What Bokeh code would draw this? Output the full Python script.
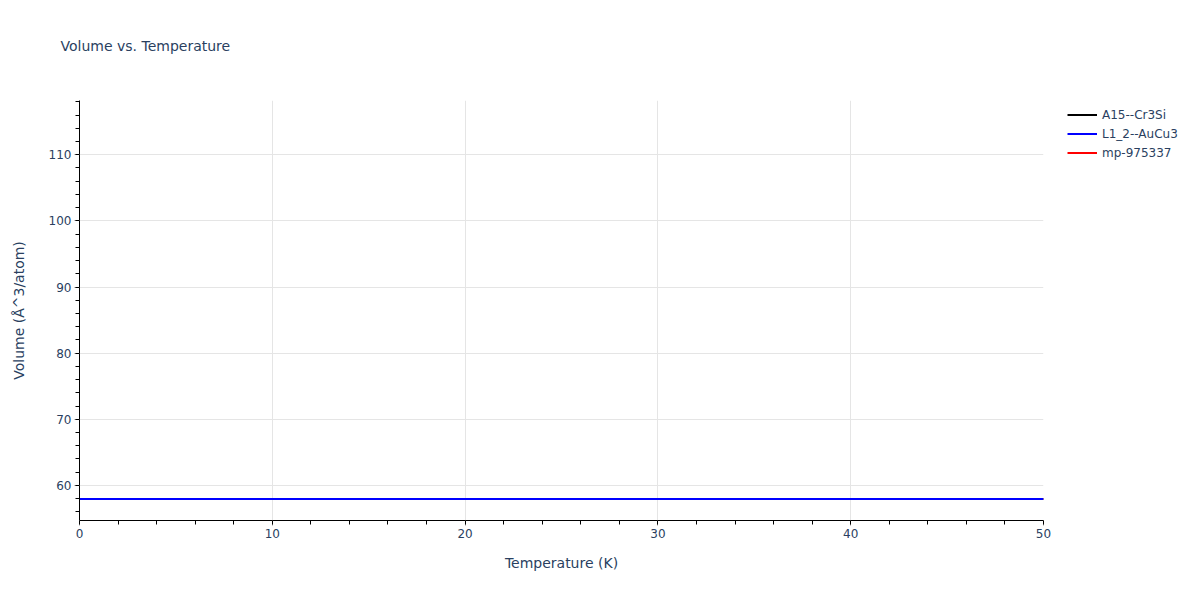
from bokeh.plotting import figure
from bokeh.models import Range1d, Legend, LegendItem, FixedTicker, Title
from bokeh.embed import file_html
from bokeh.resources import INLINE

# ---- data ----
temperature = [0, 5, 10, 15, 20, 25, 30, 35, 40, 45, 50]
vol_a15 = [57.96, 57.96, 57.96, 57.96, 57.96, 57.96, 57.96, 57.96, 57.96, 57.96, 57.96]
vol_l12 = [57.96, 57.96, 57.96, 57.96, 57.96, 57.96, 57.96, 57.96, 57.96, 57.96, 57.96]
vol_mp = [57.96, 57.96, 57.96, 57.96, 57.96, 57.96, 57.96, 57.96, 57.96, 57.96, 57.96]
series_names = ["A15--Cr3Si", "L1_2--AuCu3", "mp-975337"]
series_colors = ["black", "blue", "red"]
x_ticks = [0, 10, 20, 30, 40, 50]
y_ticks = [60, 70, 80, 90, 100, 110]

FONT = "DejaVu Sans"
TXT = "#2a3f5f"

p = figure(frame_width=964, frame_height=420, output_backend="svg", toolbar_location=None,
           x_range=Range1d(0, 50), y_range=Range1d(54.7, 118.2),
           min_border_left=79, min_border_right=141, min_border_top=100, min_border_bottom=64)
p.outline_line_color = None
p.background_fill_color = "white"
p.border_fill_color = "white"

# title: a blank spacer next to the frame, the real title above it
p.title = None
spacer = Title(text=" ", text_font=FONT, text_font_size="14px", standoff=24)
p.add_layout(spacer, "above")
main_title = Title(text="Volume vs. Temperature", text_font=FONT, text_font_size="14px",
                   text_font_style="normal", text_color=TXT, align="left",
                   offset=-19, standoff=10)
p.add_layout(main_title, "above")

# draw hidden series first, blue on top
r_mp = p.line(temperature, vol_mp, line_color=series_colors[2], line_width=2)
r_a15 = p.line(temperature, vol_a15, line_color=series_colors[0], line_width=2)
r_l12 = p.line(temperature, vol_l12, line_color=series_colors[1], line_width=2)

legend = Legend(items=[LegendItem(label=series_names[0], renderers=[r_a15]),
                       LegendItem(label=series_names[1], renderers=[r_l12]),
                       LegendItem(label=series_names[2], renderers=[r_mp])],
                location=(24, 358))
legend.label_text_font = FONT
legend.label_text_font_size = "12px"
legend.label_text_color = TXT
legend.border_line_color = None
legend.background_fill_alpha = 0
legend.glyph_width = 30
legend.glyph_height = 19
legend.label_height = 19
legend.label_width = 70
legend.label_standoff = 5
legend.spacing = 0
legend.padding = 5
legend.margin = 0
p.add_layout(legend, "right")

for ax in (p.xaxis[0], p.yaxis[0]):
    ax.axis_line_color = "black"
    ax.axis_line_width = 1
    ax.major_tick_line_color = "#999999"
    ax.major_tick_out = 5
    ax.major_tick_in = 0
    ax.minor_tick_line_color = "black"
    ax.minor_tick_out = 4
    ax.minor_tick_in = 0
    ax.major_label_text_font = FONT
    ax.major_label_text_font_size = "12px"
    ax.major_label_text_color = TXT
    ax.axis_label_text_font = FONT
    ax.axis_label_text_font_size = "14px"
    ax.axis_label_text_font_style = "normal"
    ax.axis_label_text_color = TXT

p.xaxis[0].ticker = FixedTicker(ticks=x_ticks, minor_ticks=list(range(0, 51, 2)))
p.yaxis[0].ticker = FixedTicker(ticks=y_ticks, minor_ticks=list(range(56, 119, 2)))
p.xaxis.axis_label = "Temperature (K)"
p.yaxis.axis_label = "Volume (Å^3/atom)"
p.xaxis.major_label_standoff = 3
p.xaxis.axis_label_standoff = 14
p.yaxis.major_label_standoff = 3
p.yaxis.axis_label_standoff = 19

p.xgrid.grid_line_color = "#e5e5e5"
p.ygrid.grid_line_color = "#e5e5e5"
p.xgrid.grid_line_width = 1
p.ygrid.grid_line_width = 1

open("out.html", "w").write(file_html(p, INLINE))
